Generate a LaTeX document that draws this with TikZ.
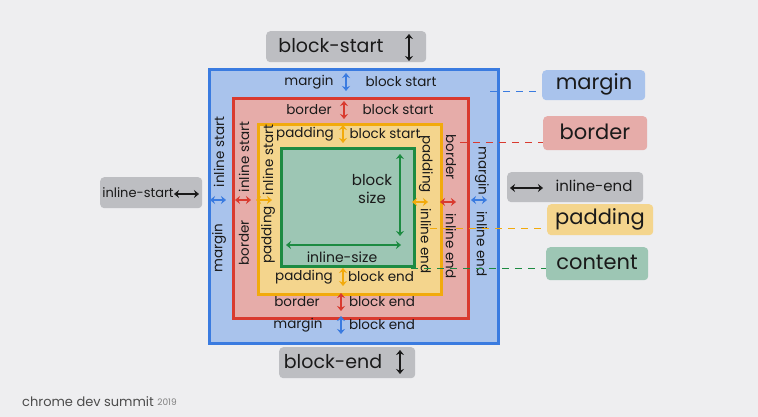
\documentclass[tikz,border=0pt]{standalone}
\usepackage{fontspec}
\setmainfont{Poppins}
\usetikzlibrary{positioning, arrows.meta}

\definecolor{bg}{HTML}{EEEEF0}
\definecolor{mline}{HTML}{3A7BE0}
\definecolor{mfill}{HTML}{A9C3EC}
\definecolor{bline}{HTML}{D93A2F}
\definecolor{bfill}{HTML}{E6ACA9}
\definecolor{pline}{HTML}{F2AA0C}
\definecolor{pfill}{HTML}{F4D58D}
\definecolor{cline}{HTML}{1D8B42}
\definecolor{cfill}{HTML}{9DC6B4}
\definecolor{tgray}{HTML}{BDBEC2}
\definecolor{ink}{HTML}{1A1A1A}

\begin{document}
\begin{tikzpicture}[x=1pt, y=-1pt, every node/.style={text=ink},
    ring/.style={line width=2.8pt, anchor=north west, inner sep=0pt},
    tag/.style={rounded corners=4pt, inner sep=0pt, anchor=north west},
    big/.style={font=\fontsize{19}{20}\selectfont, inner sep=0pt},
    small/.style={font=\fontsize{13.5}{14}\selectfont, inner sep=0pt},
    twoway/.style={{Stealth[length=5pt,width=8pt]}-{Stealth[length=5pt,width=8pt]}, line width=2.4pt},
    lead/.style={dash pattern=on 7pt off 6pt, line width=1pt}]
    \useasboundingbox[fill=bg] (0,0) rectangle (758,417);

    % the four boxes
    \node[ring, draw=mline, fill=mfill, minimum width=289pt, minimum height=274pt] (mbox) at (208,68) {};
    \node[ring, draw=bline, fill=bfill, minimum width=235pt, minimum height=220pt] (bbox) at (232,97) {};
    \node[ring, draw=pline, fill=pfill, minimum width=183pt, minimum height=170pt] (pbox) at (257,123) {};
    \node[ring, draw=cline, fill=cfill, minimum width=133pt, minimum height=118pt] (cbox) at (280,147) {};

    % rows along block start / block end
    \foreach \n/\w/\wx/\t/\tx/\y/\ax/\c in {
        ms/margin/309/block start/401/82/346/mline,
        bs/border/309/block start/398/110/344/bline,
        ps/padding/305/block start/385/134/343/pline,
        pe/padding/304/block end/381/277/343/pline,
        be/border/297/block end/382/302/341/bline,
        me/margin/298/block end/382/325/341/mline} {
        \node[small] (\n-w) at (\wx,\y) {\w};
        \node[small] (\n-t) at (\tx,\y) {\t};
        \draw[twoway, \c] (\ax,\y-9) -- (\ax,\y+9);
    }

    % columns along inline start / inline end
    \foreach \n/\w/\x/\wy/\t/\ty/\ax/\ay/\c/\r in {
        ml/margin/219/248/inline start/152/218/200/mline/90,
        bl/border/244/243/inline start/157/243/200/bline/90,
        pl/padding/268/235/inline start/160/264/200/pline/90,
        pr/padding/426/164/inline end/241/420/202/pline/-90,
        br/border/451/157/inline end/246/448/202/bline/-90,
        mr/margin/482/171/inline end/244/479/200/mline/-90} {
        \node[small, rotate=\r] (\n-w) at (\x,\wy) {\w};
        \node[small, rotate=\r] (\n-t) at (\x,\ty) {\t};
        \draw[twoway, \c] (\ax-8,\ay) -- (\ax+8,\ay);
    }

    % content sizes
    \node[small, align=center, font=\fontsize{15}{18}\selectfont] (bsize) at (372,189) {block\\size};
    \node[small, font=\fontsize{14}{15}\selectfont] (isize) at (342,257) {inline-size};
    \draw[twoway, cline] (400,154) -- (400,236);
    \draw[twoway, cline] (286,245) -- (401,245);

    % direction tags
    \node[tag, fill=tgray, minimum width=160pt, minimum height=31pt] (tstart) at (266,31) {};
    \node[big] (tstart-t) at (331,46) {block-start};
    \draw[twoway, ink, line width=2.6pt] (409,34) -- (409,61);
    \node[tag, fill=tgray, minimum width=136pt, minimum height=31pt] (tend) at (279,347) {};
    \node[big] (tend-t) at (333,362) {block-end};
    \draw[twoway, ink, line width=2.6pt] (400,350) -- (400,374);
    \node[tag, fill=tgray, minimum width=102pt, minimum height=31pt] (tleft) at (100,177) {};
    \node[small, font=\fontsize{13}{14}\selectfont] (tleft-t) at (138,193) {inline-start};
    \draw[twoway, ink, line width=1.8pt] (174,194) -- (199,194);
    \node[tag, fill=tgray, minimum width=136pt, minimum height=30pt] (tright) at (507,172) {};
    \node[small, font=\fontsize{15}{16}\selectfont] (tright-t) at (594,186) {inline-end};
    \draw[twoway, ink, line width=1.8pt] (510,188) -- (543,188);

    % legend
    \node[tag, fill=mfill, minimum width=103pt, minimum height=30pt] (lmargin) at (542,70) {};
    \node[big, font=\fontsize{21}{22}\selectfont] at (594,84) {margin};
    \node[tag, fill=bfill, minimum width=104pt, minimum height=34pt] (lborder) at (543,116) {};
    \node[big, font=\fontsize{21}{22}\selectfont] at (595,132) {border};
    \node[tag, fill=pfill, minimum width=106pt, minimum height=31pt] (lpadding) at (547,204) {};
    \node[big, font=\fontsize{21}{22}\selectfont] at (600,219) {padding};
    \node[tag, fill=cfill, minimum width=102pt, minimum height=33pt] (lcontent) at (546,247) {};
    \node[big, font=\fontsize{21}{22}\selectfont] at (597,262) {content};

    \coordinate (mtick) at (490,92);
    \coordinate (btick) at (460,143);
    \coordinate (ptick) at (430,228);
    \coordinate (ctick) at (411,268);
    \draw[lead, mline] (mtick) -- (mtick -| lmargin.west);
    \draw[lead, bline] (btick) -- (btick -| lborder.west);
    \draw[lead, pline] (ptick) -- (ptick -| lpadding.west);
    \draw[lead, cline] (ctick) -- (ctick -| lcontent.west);

    % footer
    \node[anchor=west, inner sep=0pt, font=\fontsize{13}{14}\selectfont, text=black!70] (foot) at (22,402) {chrome dev summit};
    \node[right=3pt of foot, inner sep=0pt, font=\fontsize{9}{10}\selectfont, text=black!50] (year) {2019};
\end{tikzpicture}
\end{document}
